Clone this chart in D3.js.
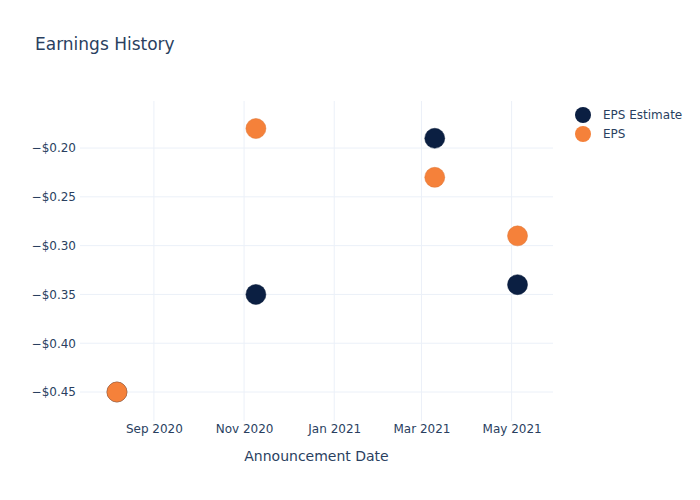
<!DOCTYPE html>
<html><head><meta charset="utf-8">
<script src="https://cdn.jsdelivr.net/npm/d3@7"></script>
<style>body{margin:0;background:#fff;font-family:"DejaVu Sans",Verdana,sans-serif;}</style>
</head><body><svg id="c" width="700" height="500"></svg>
<script>
const dates = ["2020-08-07","2020-11-09","2021-03-10","2021-05-05"];
const epsEstimate = [-0.45,-0.35,-0.19,-0.34];
const eps = [-0.45,-0.18,-0.23,-0.29];
const seriesNames = ["EPS Estimate","EPS"];
const seriesColors = ["#0b1f42","#f5813a"];
const yTicks = [-0.20,-0.25,-0.30,-0.35,-0.40,-0.45];
const xTicks = ["2020-09-01","2020-11-01","2021-01-01","2021-03-01","2021-05-01"];

const parse = d3.utcParse("%Y-%m-%d");
const svg = d3.select("#c");
const L=80,R=553,T=101,B=421;
const x = d3.scaleUtc().domain([parse("2020-07-13"),parse("2021-05-29")]).range([L,R]);
const y = d3.scaleLinear().domain([-0.4797,-0.1518]).range([B,T]);
const txt="#2a3f5f", grid="#ebf0f8";

// grid
svg.append("g").selectAll("line").data(xTicks).join("line")
 .attr("x1",d=>x(parse(d))).attr("x2",d=>x(parse(d))).attr("y1",T).attr("y2",B)
 .attr("stroke",grid).attr("stroke-width",1);
svg.append("g").selectAll("line").data(yTicks).join("line")
 .attr("x1",L).attr("x2",R).attr("y1",d=>y(d)).attr("y2",d=>y(d))
 .attr("stroke",grid).attr("stroke-width",1);

// axes
const fmt = v => "\u2212$" + Math.abs(v).toFixed(2);
const ya = d3.axisLeft(y).tickValues(yTicks).tickFormat(fmt).tickSize(0).tickPadding(4);
const yg = svg.append("g").attr("transform",`translate(${L},0)`).call(ya);
yg.select(".domain").remove();
yg.selectAll("text").attr("fill",txt).attr("font-size",12).attr("font-family","DejaVu Sans");

const xa = d3.axisBottom(x).tickValues(xTicks.map(parse)).tickFormat(d3.utcFormat("%b %Y")).tickSize(0).tickPadding(3);
const xg = svg.append("g").attr("transform",`translate(0,${B})`).call(xa);
xg.select(".domain").remove();
xg.selectAll("text").attr("fill",txt).attr("font-size",12).attr("font-family","DejaVu Sans");

// titles
svg.append("text").attr("x",35).attr("y",50).attr("fill",txt).attr("font-size",17).text("Earnings History");
svg.append("text").attr("x",(L+R)/2).attr("y",461).attr("text-anchor","middle").attr("fill",txt).attr("font-size",14).text("Announcement Date");

// points
const series=[epsEstimate,eps];
series.forEach((vals,i)=>{
  svg.append("g").selectAll("circle").data(vals).join("circle")
   .attr("cx",(d,j)=>x(parse(dates[j]))).attr("cy",d=>y(d)).attr("r",10)
   .attr("fill",seriesColors[i]).attr("stroke",d3.color(seriesColors[i]).darker(0.3)).attr("stroke-width",0.5);
});

// legend
const lg = svg.append("g");
seriesNames.forEach((n,i)=>{
  lg.append("circle").attr("cx",583).attr("cy",115+i*19).attr("r",8).attr("fill",seriesColors[i]);
  lg.append("text").attr("x",603).attr("y",119+i*19).attr("fill",txt).attr("font-size",12).text(n);
});
</script></body></html>
